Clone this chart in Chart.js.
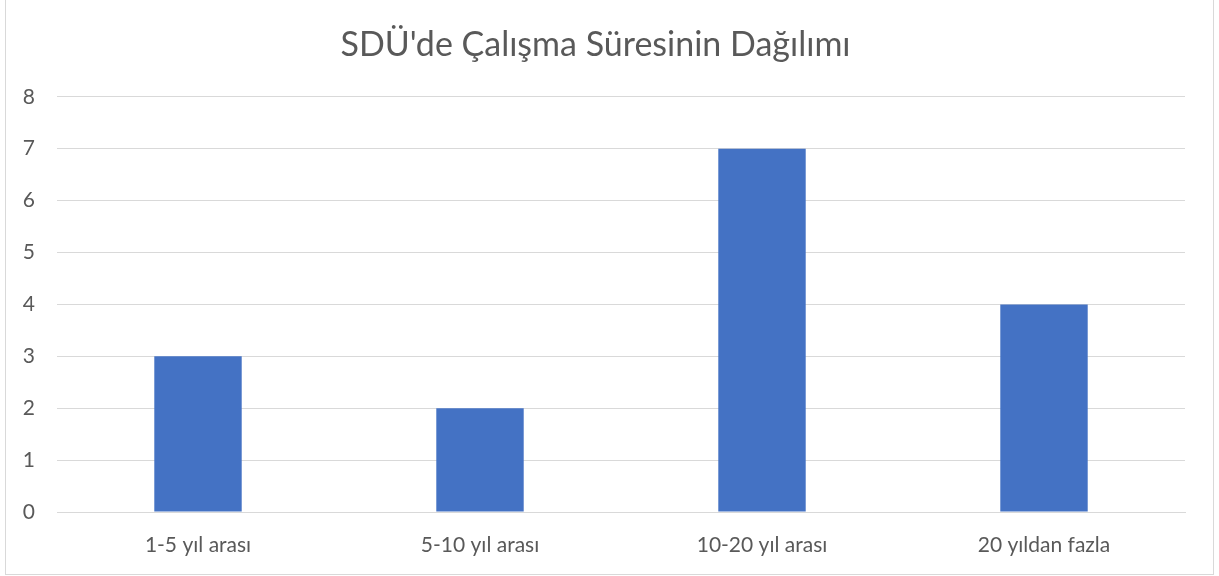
<!DOCTYPE html>
<html>
<head>
<meta charset="utf-8">
<script src="https://cdn.jsdelivr.net/npm/chart.js@4"></script>
<style>
    body { margin: 0; background: #fff; }
    #frame {
        position: absolute; left: 5px; top: -1px;
        width: 1207px; height: 574px;
        border: 1px solid #d9d9d9;
    }
    #wrap { position: absolute; left: 6px; top: 0; width: 1207px; height: 573px; }
</style>
</head>
<body>
<div id="frame"></div>
<div id="wrap"><canvas id="myChart"></canvas></div>
<script>
const TITLE = "SDÜ'de Çalışma Süresinin Dağılımı";
const categories = ["1-5 yıl arası", "5-10 yıl arası", "10-20 yıl arası", "20 yıldan fazla"];
const counts = [3, 2, 7, 4];
const yTicks = [0, 1, 2, 3, 4, 5, 6, 7, 8];

const FONT = "Lato, 'Noto Sans', sans-serif";
const TEXT = "#595959";

new Chart(document.getElementById("myChart"), {
    type: "bar",
    data: {
        labels: categories,
        datasets: [{
            data: counts,
            backgroundColor: "#4472c4",
            barPercentage: 0.62,
            categoryPercentage: 0.5,
        }],
    },
    options: {
        responsive: true,
        maintainAspectRatio: false,
        animation: false,
        layout: { padding: { left: 0, right: 28, top: 0, bottom: 0 } },
        plugins: {
            legend: { display: false },
            tooltip: { enabled: false },
            title: {
                display: true,
                text: TITLE,
                color: TEXT,
                font: { family: FONT, size: 34, weight: "normal" },
                padding: { top: 25, bottom: 31 },
            },
        },
        scales: {
            x: {
                afterFit: (scale) => { scale.height = 61; },
                grid: { display: false, drawTicks: false },
                border: { display: true, color: "#d9d9d9" },
                ticks: { color: TEXT, font: { family: FONT, size: 21 }, padding: 21, maxRotation: 0 },
            },
            y: {
                min: 0,
                max: 8,
                afterFit: (scale) => { scale.width = 51; },
                afterBuildTicks: (scale) => { scale.ticks = yTicks.map((v) => ({ value: v })); },
                grid: { color: "#d9d9d9", drawTicks: false },
                border: { display: false },
                ticks: { color: TEXT, font: { family: FONT, size: 21 }, padding: 22 },
            },
        },
    },
});
</script>
</body>
</html>
